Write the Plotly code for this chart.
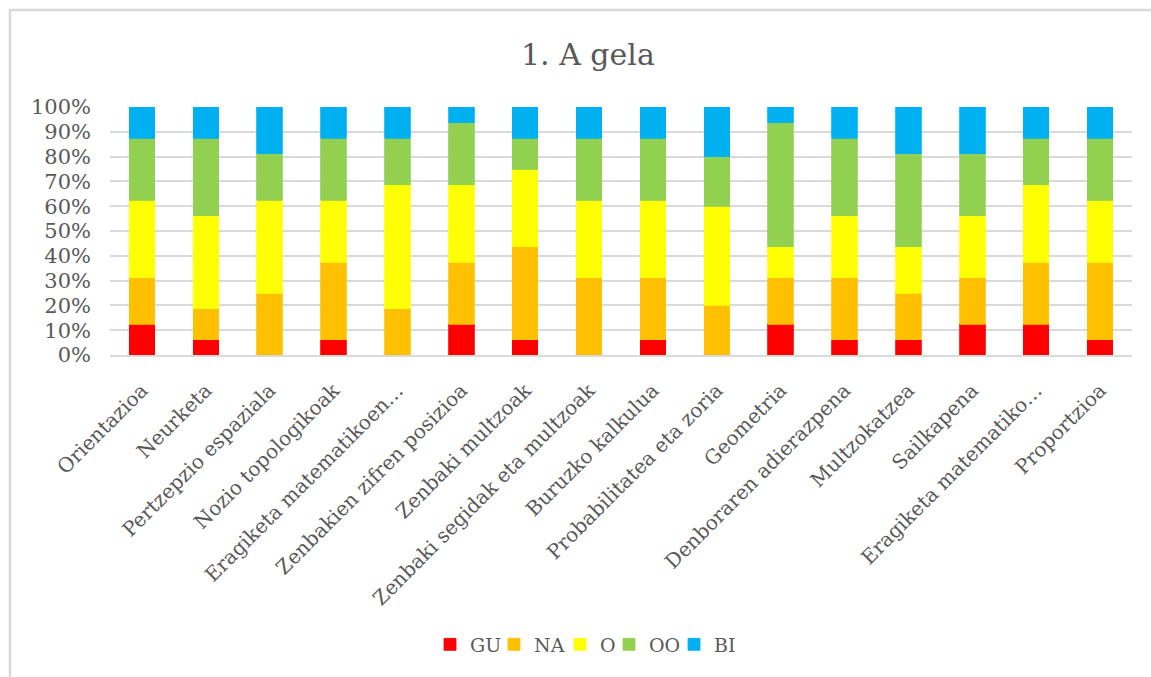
import plotly.graph_objects as go

categories = [
    "Orientazioa", "Neurketa", "Pertzepzio espaziala", "Nozio topologikoak",
    "Eragiketa matematikoen…", "Zenbakien zifren posizioa", "Zenbaki multzoak",
    "Zenbaki segidak eta multzoak", "Buruzko kalkulua", "Probabilitatea eta zoria",
    "Geometria", "Denboraren adierazpena", "Multzokatzea", "Sailkapena",
    "Eragiketa matematiko…", "Proportzioa",
]
GU = [12.5, 6.25, 0, 6.25, 0, 12.5, 6.25, 0, 6.25, 0, 12.5, 6.25, 6.25, 12.5, 12.5, 6.25]
NA = [18.75, 12.5, 25, 31.25, 18.75, 25, 37.5, 31.25, 25, 20, 18.75, 25, 18.75, 18.75, 25, 31.25]
O = [31.25, 37.5, 37.5, 25, 50, 31.25, 31.25, 31.25, 31.25, 40, 12.5, 25, 18.75, 25, 31.25, 25]
OO = [25, 31.25, 18.75, 25, 18.75, 25, 12.5, 25, 25, 20, 50, 31.25, 37.5, 25, 18.75, 25]
BI = [12.5, 12.5, 18.75, 12.5, 12.5, 6.25, 12.5, 12.5, 12.5, 20, 6.25, 12.5, 18.75, 18.75, 12.5, 12.5]

series = [("GU", GU, "#FF0000"), ("NA", NA, "#FFC000"), ("O", O, "#FFFF00"),
          ("OO", OO, "#92D050"), ("BI", BI, "#00B0F0")]

FONT = "DejaVu Serif"
GRAY = "#595959"

# plot area in pixels
PL, PR, PT, PB = 110, 1132, 107, 355
W, H = 1151, 677

def px_x(p):
    return (p - PL) / (PR - PL)

def px_y(p):
    return (PB - p) / (PB - PT)

legend_left_px = [430, 494, 560, 609, 674]

fig = go.Figure()
layout_legends = {}
for i, (name, vals, col) in enumerate(series):
    key = "legend" if i == 0 else f"legend{i+1}"
    fig.add_trace(go.Bar(x=categories, y=[v if v else None for v in vals], name=name,
                         marker_color=col, marker_line_width=0.8, marker_line_color=col,
                         legend=key))
    layout_legends[key] = dict(
        orientation="h", x=px_x(legend_left_px[i]), xanchor="left",
        y=px_y(644.5), yanchor="middle", bgcolor="rgba(0,0,0,0)",
        font=dict(size=19, color=GRAY, family=FONT), itemwidth=30)

fig.update_layout(
    barmode="stack",
    barnorm="percent",
    bargap=0.6,
    width=W, height=H,
    margin=dict(l=PL, r=W - PR, t=PT, b=H - PB),
    paper_bgcolor="white", plot_bgcolor="white",
    font=dict(family=FONT, color=GRAY),
    showlegend=True,
    annotations=[dict(text="1. A gela", x=px_x(588), y=px_y(55), xref="paper", yref="paper",
                      showarrow=False, xanchor="center", yanchor="middle",
                      font=dict(size=30, color=GRAY, family=FONT))],
    shapes=[dict(type="rect", xref="paper", yref="paper", x0=px_x(10), x1=px_x(1160),
                 y0=px_y(690), y1=px_y(10), line=dict(color="#d9d9d9", width=2.5))],
    **layout_legends,
)
fig.update_yaxes(range=[0, 100], tickvals=[0, 10, 20, 30, 40, 50, 60, 70, 80, 90, 100],
                 ticktext=["0%", "10%", "20%", "30%", "40%", "50%", "60%", "70%", "80%", "90%", "100%"],
                 showgrid=True, gridcolor="#d9d9d9", gridwidth=1.5, zeroline=False,
                 showline=False, ticks="", ticklen=0, ticklabelstandoff=18,
                 tickfont=dict(size=21, color=GRAY, family=FONT))
fig.update_xaxes(tickangle=-45, showline=True, linecolor="#d9d9d9", linewidth=1.5,
                 ticks="", ticklabelstandoff=14,
                 tickfont=dict(size=20, color=GRAY, family=FONT))

fig.write_html("out.html")
